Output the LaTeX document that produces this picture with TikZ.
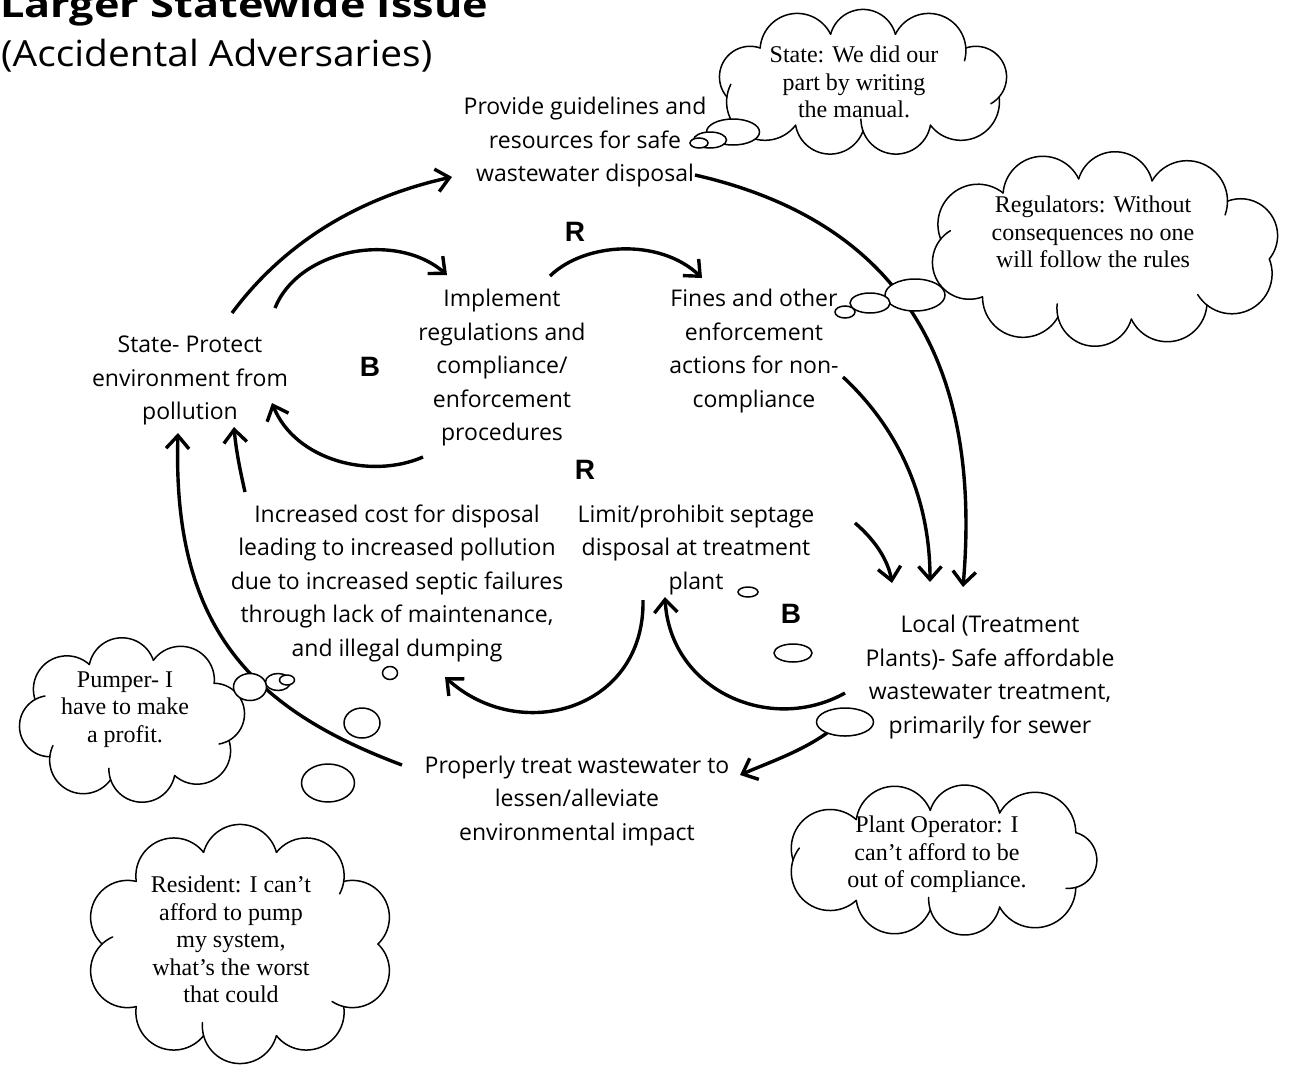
\documentclass[tikz,border=0pt]{standalone}
\usepackage{fontspec}
\setmainfont{Open Sans}
\newfontfamily\bubblefont{Liberation Serif}
\newfontfamily\loopfont{Liberation Sans}
\usetikzlibrary{arrows.meta}

% cloud made of circular puffs around an ellipse
% #1 cx, #2 cy, #3 a, #4 b, #5 number of puffs, #6 phase, #7 half arc angle, #8 list of inner extensions
\newcommand\cloudpuffs[8]{%
  \pgfmathsetmacro\ccm{(#3-#4)/(#3+#4)}%
  \foreach \k in {1,...,#5}{%
    \pgfmathsetmacro\ccuA{#6+360*(\k-1)/#5}%
    \pgfmathsetmacro\ccuB{#6+360*\k/#5}%
    \pgfmathsetmacro\cctA{\ccuA+(\ccm)*28.6479*sin(2*(\ccuA))}%
    \pgfmathsetmacro\cctA{\ccuA+(\ccm)*28.6479*sin(2*(\cctA))}%
    \pgfmathsetmacro\cctA{\ccuA+(\ccm)*28.6479*sin(2*(\cctA))}%
    \pgfmathsetmacro\cctB{\ccuB+(\ccm)*28.6479*sin(2*(\ccuB))}%
    \pgfmathsetmacro\cctB{\ccuB+(\ccm)*28.6479*sin(2*(\cctB))}%
    \pgfmathsetmacro\cctB{\ccuB+(\ccm)*28.6479*sin(2*(\cctB))}%
    \pgfmathsetmacro\ccax{#1+#3*cos(\cctA)}%
    \pgfmathsetmacro\ccay{#2+#4*sin(\cctA)}%
    \pgfmathsetmacro\ccbx{#1+#3*cos(\cctB)}%
    \pgfmathsetmacro\ccby{#2+#4*sin(\cctB)}%
    \pgfmathsetmacro\ccmx{((\ccax)+(\ccbx))/2}%
    \pgfmathsetmacro\ccmy{((\ccay)+(\ccby))/2}%
    \pgfmathsetmacro\cccl{veclen((\ccbx)-(\ccax),(\ccby)-(\ccay))}%
    \pgfmathsetmacro\ccpx{-((\ccby)-(\ccay))/(\cccl)}%
    \pgfmathsetmacro\ccpy{((\ccbx)-(\ccax))/(\cccl)}%
    \pgfmathsetmacro\ccsg{ifthenelse(((\ccmx)-#1)*(\ccpx)+((\ccmy)-#2)*(\ccpy)>0,1,-1)}%
    \pgfmathsetmacro\ccnx{(\ccsg)*(\ccpx)}%
    \pgfmathsetmacro\ccny{(\ccsg)*(\ccpy)}%
    \pgfmathsetmacro\ccrr{(\cccl)/(2*sin(#7))}%
    \pgfmathsetmacro\ccox{(\ccmx)-(\ccnx)*(\ccrr)*cos(#7)}%
    \pgfmathsetmacro\ccoy{(\ccmy)-(\ccny)*(\ccrr)*cos(#7)}%
    \pgfmathsetmacro\ccbt{atan2(\ccny,\ccnx)}%
    \pgfmathsetmacro\ccex{{#8}[\k-1]}%
    \pgfmathsetmacro\ccsA{(\ccbt)-#7}%
    \pgfmathsetmacro\ccsB{(\ccbt)+#7+(\ccex)}%
    \draw[cloudline] plot[domain=\ccsA:\ccsB,samples=30,smooth,variable=\w]
      ({\ccox+\ccrr*cos(\w)},{\ccoy+\ccrr*sin(\w)});
  }%
}

\begin{document}
\begin{tikzpicture}[x=1pt,y=-1pt,
  arr/.style={line width=3.4pt, -{Straight Barb[length=13pt,width=23pt]}},
  lbl/.style={align=center, font=\fontsize{23}{33.5}\selectfont, inner sep=0pt},
  bub/.style={align=center, font=\bubblefont\fontsize{24}{27.5}\selectfont, inner sep=0pt},
  loopmark/.style={font=\loopfont\bfseries\fontsize{28}{30}\selectfont, inner sep=0pt},
  cloudline/.style={line width=1.5pt, line cap=round},
  puffball/.style={draw, line width=1.5pt, fill=white}]
\fill[white] (0,0) rectangle (1289,1068);
\useasboundingbox (0,0) rectangle (1289,1068);

% title (cut by the top edge, as in the original)
\node[anchor=base west, inner sep=0pt, xscale=1.2, font=\bfseries\fontsize{36}{40}\selectfont] (title) at (0,17) {Larger Statewide Issue};
\node[anchor=base west, inner sep=0pt, xscale=1.08, font=\fontsize{36}{40}\selectfont] (subtitle) at (1,66) {(Accidental Adversaries)};

% thought clouds
\cloudpuffs{863}{82}{143}{49}{9}{10}{75}{0,20,0,20,0,0,0,20,20}
\cloudpuffs{1105}{249}{166}{71}{10}{5}{75}{20,0,20,0,20,0,0,0,20,0}
\cloudpuffs{132}{720}{103}{61}{8}{15}{75}{0,20,20,20,0,0,0,20}
\cloudpuffs{240}{944}{138}{95}{10}{0}{75}{20,0,20,0,20,0,0,0,20,0}
\cloudpuffs{947}{860}{154}{50}{9}{20}{75}{0,20,0,20,0,0,0,0,20}

% variables
\node[lbl] (provide) at (585,142.5) {Provide guidelines and\\resources for safe\\wastewater disposal};
\node[lbl] (implement) at (502,368) {Implement\\regulations and\\compliance/\\enforcement\\procedures};
\node[lbl] (fines) at (754,351) {Fines and other\\enforcement\\actions for non-\\compliance};
\node[lbl] (state) at (190,380.5) {State- Protect\\environment from\\pollution};
\node[lbl] (increased) at (397,583) {Increased cost for disposal\\leading to increased pollution\\due to increased septic failures\\through lack of maintenance,\\and illegal dumping};
\node[lbl] (limit) at (696,550) {Limit/prohibit septage\\disposal at treatment\\plant};
\node[lbl] (local) at (990,677) {Local (Treatment\\Plants)- Safe affordable\\wastewater treatment,\\primarily for sewer};
\node[lbl] (properly) at (577,801) {Properly treat wastewater to\\lessen/alleviate\\environmental impact};

% loop markers
\node[loopmark] (loopR1) at (575,232) {R};
\node[loopmark] (loopB1) at (370,367) {B};
\node[loopmark] (loopR2) at (585,470) {R};
\node[loopmark] (loopB2) at (791,614) {B};

% connectors
\draw[arr] ([shift={(42,-67.5)}]state.center) .. controls (290,235) and (370,195) .. ([shift={(-133,34.5)}]provide.center);
\draw[arr] ([shift={(85,-72.5)}]state.center) .. controls (298,250) and (395,230) .. ([shift={(-55,-93)}]implement.center);
\draw[arr] ([shift={(48,-92)}]implement.center) .. controls (585,242) and (660,238) .. ([shift={(-52,-73)}]fines.center);
\draw[arr] ([shift={(-79,89)}]implement.center) .. controls (370,480) and (295,460) .. ([shift={(82,22.5)}]state.center);
\draw[arr] ([shift={(-152,-91)}]increased.center) .. controls (240,470) and (236,450) .. ([shift={(44,46.5)}]state.center);
\draw[arr] ([shift={(-175,-36)}]properly.center) .. controls (255,710) and (172,630) .. ([shift={(-12,52.5)}]state.center);
\draw[arr] ([shift={(110,32.5)}]provide.center) .. controls (870,215) and (985,330) .. ([shift={(-27,-90)}]local.center);
\draw[arr] ([shift={(89,26)}]fines.center) .. controls (900,430) and (930,500) .. ([shift={(-60,-95)}]local.center);
\draw[arr] ([shift={(159,-27)}]limit.center) .. controls (875,540) and (888,560) .. ([shift={(-98,-94)}]local.center);
\draw[arr] ([shift={(-145,16)}]local.center) .. controls (770,735) and (670,690) .. ([shift={(-31,47)}]limit.center);
\draw[arr] ([shift={(-53,50)}]limit.center) .. controls (645,710) and (520,745) .. ([shift={(48,94)}]increased.center);
\draw[arr] ([shift={(-163,56)}]local.center) .. controls (800,752) and (770,762) .. ([shift={(163,-26)}]properly.center);

% thought bubbles
\draw[puffball] (733,132) ellipse[x radius=26.5,y radius=13];
\draw[puffball] (710,140) ellipse[x radius=16.5,y radius=8];
\draw[puffball] (699,143) ellipse[x radius=9,y radius=5];
\draw[puffball] (915,295) ellipse[x radius=30,y radius=16];
\draw[puffball] (870,303) ellipse[x radius=20,y radius=10];
\draw[puffball] (845,312) ellipse[x radius=10,y radius=6];
\draw[puffball] (250,687) ellipse[x radius=16.5,y radius=13.5];
\draw[puffball] (278,682) ellipse[x radius=12.5,y radius=8.5];
\draw[puffball] (287,680) ellipse[x radius=7.5,y radius=5];
\draw[puffball] (748,592) ellipse[x radius=10,y radius=5];
\draw[puffball] (793,653) ellipse[x radius=19,y radius=9];
\draw[puffball] (845,722) ellipse[x radius=28.5,y radius=14];
\draw[puffball] (390,673) ellipse[x radius=7.5,y radius=6.5];
\draw[puffball] (362,723) ellipse[x radius=18,y radius=15];
\draw[puffball] (328,783) ellipse[x radius=26.5,y radius=19];

% thoughts
\node[bub] (stateq) at (854,82) {State: We did our\\part by writing\\the manual.};
\node[bub] (regq) at (1093,232) {Regulators: Without\\consequences no one\\will follow the rules};
\node[bub] (pumpq) at (125,709.5) {Pumper- I\\have to make\\a profit.};
\node[bub] (resq) at (231,939.5) {Resident: I can’t\\afford to pump\\my system,\\what’s the worst\\that could};
\node[bub] (plantq) at (937,854.5) {Plant Operator: I\\can’t afford to be\\out of compliance.};
\end{tikzpicture}
\end{document}
